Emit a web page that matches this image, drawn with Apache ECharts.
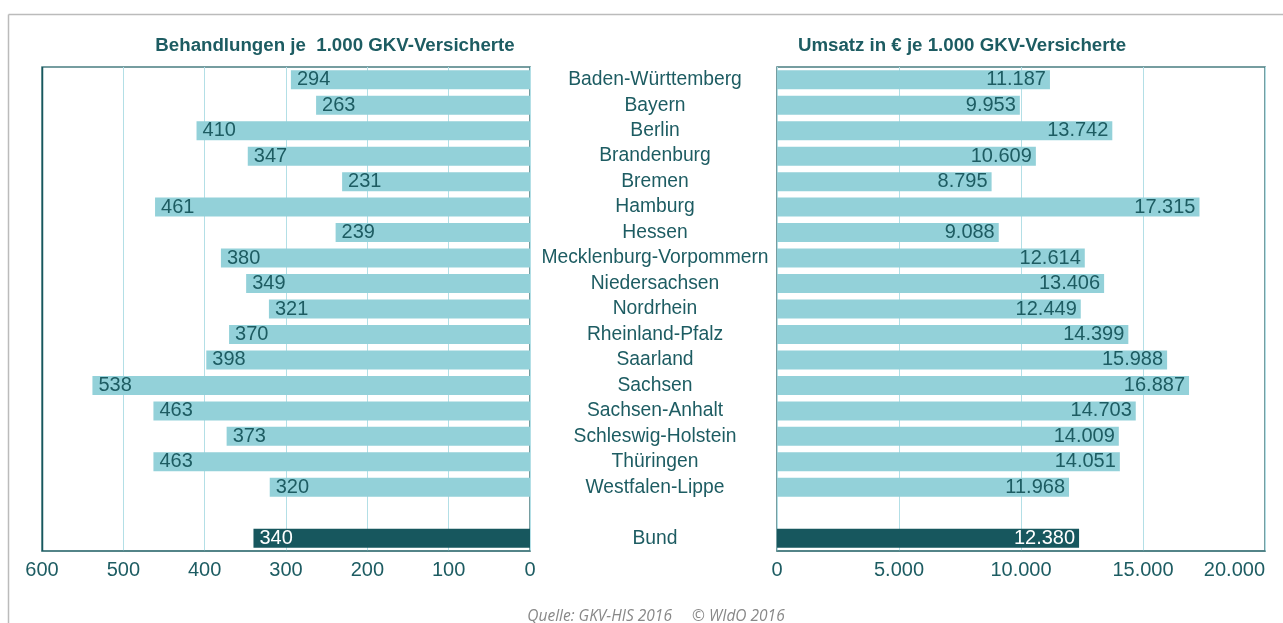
<!DOCTYPE html>
<html>
<head>
<meta charset="utf-8">
<script src="https://cdn.jsdelivr.net/npm/echarts@6/dist/echarts.min.js"></script>
<style>
  html, body { margin: 0; padding: 0; background: #fff; }
  #chart { width: 1283px; height: 623px; }
</style>
</head>
<body>
<div id="chart"></div>
<script>
// Bundesländer (leere Zeile vor "Bund")
const regions = ['Baden-Württemberg', 'Bayern', 'Berlin', 'Brandenburg', 'Bremen', 'Hamburg', 'Hessen',
  'Mecklenburg-Vorpommern', 'Niedersachsen', 'Nordrhein', 'Rheinland-Pfalz', 'Saarland', 'Sachsen',
  'Sachsen-Anhalt', 'Schleswig-Holstein', 'Thüringen', 'Westfalen-Lippe', '', 'Bund']
// Behandlungen je 1.000 GKV-Versicherte
const treatments = [294, 263, 410, 347, 231, 461, 239, 380, 349, 321, 370, 398, 538, 463, 373, 463, 320, null, 340]
// Umsatz in € je 1.000 GKV-Versicherte
const revenue = [11187, 9953, 13742, 10609, 8795, 17315, 9088, 12614, 13406, 12449, 14399, 15988, 16887, 14703, 14009, 14051, 11968, null, 12380]

const light = '#93d1d9'
const dark = '#17575e'
const teal = '#1d5c62'
const gridLine = '#b3dfe6'
const border = '#4a7d81'
const font = '"Liberation Sans", Arial, sans-serif'

const fmtDE = (v) => String(v).replace(/\B(?=(\d{3})+(?!\d))/g, '.')

const toData = (arr) => arr.map((v, i) => {
  if (v == null) return '-'
  const isBund = regions[i] === 'Bund'
  return {
    value: v,
    itemStyle: {color: isBund ? dark : light},
    label: {color: isBund ? '#fff' : teal}
  }
})

const chart = echarts.init(document.getElementById('chart'))

const gridBase = {top: 67, height: 484, show: true, borderColor: border, borderWidth: 1.5,
  backgroundColor: 'transparent', outerBoundsMode: 'none', containLabel: false}

const xBase = {
  type: 'value',
  axisLine: {show: true, lineStyle: {color: border, width: 1.5}},
  axisTick: {show: false},
  splitLine: {show: true, lineStyle: {color: gridLine, width: 1}},
  axisLabel: {color: teal, fontSize: 20, fontFamily: font, margin: 9}
}

const option = {
  animation: false,
  textStyle: {fontFamily: font},
  title: [
    {text: 'Behandlungen je  1.000 GKV-Versicherte', left: 330, top: 31, textAlign: 'center',
      textStyle: {fontSize: 18.7, fontWeight: 'bold', color: teal, fontFamily: font}},
    {text: 'Umsatz in € je 1.000 GKV-Versicherte', left: 957, top: 31, textAlign: 'center',
      textStyle: {fontSize: 18.7, fontWeight: 'bold', color: teal, fontFamily: font}},
    {text: 'Quelle: GKV-HIS 2016     © WIdO 2016', left: 651, top: 604, textAlign: 'center',
      textStyle: {fontSize: 15.5, fontStyle: 'italic', fontWeight: 'normal', color: '#888', fontFamily: '"Open Sans", sans-serif'}}
  ],
  graphic: [
    {type: 'line', shape: {x1: 8.5, y1: 14.5, x2: 1283, y2: 14.5}, style: {stroke: '#bbb', lineWidth: 1.5}, silent: true},
    {type: 'line', shape: {x1: 8.5, y1: 14.5, x2: 8.5, y2: 623}, style: {stroke: '#bbb', lineWidth: 1.5}, silent: true},
    // dunkle linke Kante des linken Diagramms
    {type: 'line', shape: {x1: 42.5, y1: 67, x2: 42.5, y2: 551}, style: {stroke: dark, lineWidth: 1.5}, silent: true, z: 10}
  ],
  grid: [
    {...gridBase, left: 42, width: 488},
    {...gridBase, left: 777, width: 488}
  ],
  xAxis: [
    {...xBase, gridIndex: 0, inverse: true, min: 0, max: 600, interval: 100},
    {...xBase, gridIndex: 1, min: 0, max: 20000, interval: 5000,
      axisLabel: {...xBase.axisLabel, alignMaxLabel: 'right', formatter: (v) => fmtDE(v)}}
  ],
  yAxis: [
    {type: 'category', gridIndex: 0, data: regions, inverse: true, position: 'right',
      axisLine: {show: false}, axisTick: {show: false}, axisLabel: {show: false}, splitLine: {show: false}},
    {type: 'category', gridIndex: 1, data: regions, inverse: true,
      axisLine: {show: false}, axisTick: {show: false}, splitLine: {show: false},
      axisLabel: {interval: 0, color: teal, fontSize: 19.3, fontFamily: font, align: 'center', margin: 122,
        lineHeight: 22, padding: [3, 0, 0, 0]}}
  ],
  series: [
    {
      name: 'Behandlungen', type: 'bar', xAxisIndex: 0, yAxisIndex: 0,
      barWidth: 19,
      label: {show: true, position: 'insideLeft', distance: 6, fontSize: 20, fontFamily: font},
      data: toData(treatments)
    },
    {
      name: 'Umsatz', type: 'bar', xAxisIndex: 1, yAxisIndex: 1,
      barWidth: 19,
      label: {show: true, position: 'insideRight', distance: 4, fontSize: 20, fontFamily: font,
        formatter: (p) => fmtDE(p.value)},
      data: toData(revenue)
    }
  ]
}

chart.setOption(option)
</script>
</body>
</html>
